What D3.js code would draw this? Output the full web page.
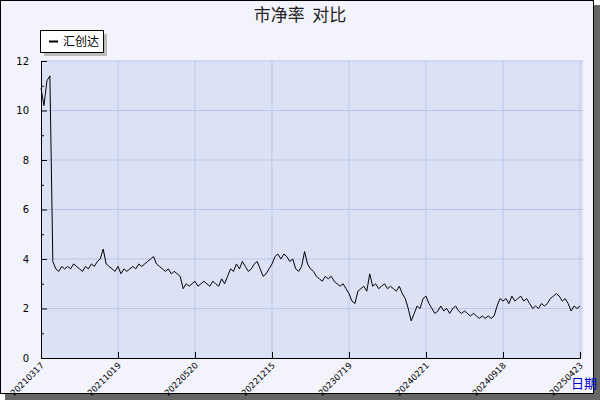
<!DOCTYPE html><html><head><meta charset="utf-8"><script src="https://cdn.jsdelivr.net/npm/d3@7"></script>
<style>body{margin:0;background:#fff}</style></head><body><svg id="c" width="600" height="400"></svg>
<script>
const title="市净率\u00a0\u00a0对比";
const seriesName="汇创达";
const tickLabels=["20210317","20211019","20220520","20221215","20230719","20240221","20240918","20250423"];
const yTicks=[0,2,4,6,8,10,12];
const values=[10.9,10.2,11.2,11.4,3.9,3.6,3.5,3.7,3.6,3.7,3.6,3.8,3.7,3.6,3.5,3.7,3.6,3.8,3.7,3.9,
4.0,4.4,3.8,3.7,3.6,3.5,3.7,3.4,3.6,3.5,3.6,3.7,3.6,3.8,3.7,3.8,3.9,4.0,4.1,3.8,3.7,3.6,3.5,3.6,3.4,3.5,3.4,3.3,2.8,3.0,
2.9,3.0,3.1,2.9,3.0,3.1,3.0,2.9,3.1,3.0,2.9,3.2,3.0,3.3,3.6,3.5,3.8,3.6,3.9,3.7,3.5,3.6,3.8,3.9,3.6,3.3,3.4,3.6,3.8,4.1,
4.2,4.0,4.2,4.1,3.9,4.0,3.6,3.5,3.7,4.3,3.8,3.6,3.5,3.3,3.2,3.1,3.3,3.2,3.3,3.1,3.0,2.9,3.0,2.8,2.6,2.3,2.2,2.7,2.8,2.9,
2.7,3.4,2.9,3.0,2.8,2.9,3.0,2.8,2.9,2.8,2.7,2.9,2.6,2.4,2.0,1.5,1.8,2.1,2.0,2.4,2.5,2.2,2.0,1.8,1.9,2.1,1.9,2.0,1.8,2.0,
2.1,1.9,1.8,1.9,1.8,1.7,1.8,1.7,1.6,1.7,1.6,1.7,1.6,1.7,2.1,2.4,2.3,2.4,2.2,2.5,2.3,2.4,2.5,2.3,2.4,2.2,2.0,2.1,2.0,2.2,
2.1,2.2,2.4,2.5,2.6,2.5,2.3,2.4,2.2,1.9,2.1,2.0,2.1];
const step=26;
const svg=d3.select("#c");
svg.append("rect").attr("x",5).attr("y",5).attr("width",595).attr("height",395).attr("fill","#666");
svg.append("rect").attr("x",0.5).attr("y",0.5).attr("width",593).attr("height",393).attr("fill","#f3f4fb").attr("stroke","#000");
const L=41,R=580,T=61,B=358;
const x=d3.scaleLinear().domain([0,values.length-1]).range([L,R]);
const y=d3.scaleLinear().domain([0,12]).range([B,T]);
svg.append("rect").attr("x",L).attr("y",T).attr("width",R-L+3).attr("height",B-T).attr("fill","#dce2f6");
const xt=d3.range(0,values.length,step);
svg.append("g").selectAll("line").data(xt.slice(1)).join("line").attr("x1",d=>x(d)).attr("x2",d=>x(d)).attr("y1",T).attr("y2",B).attr("stroke","#b9c6ea");
svg.append("g").selectAll("line").data(yTicks.slice(1)).join("line").attr("x1",L).attr("x2",R+3).attr("y1",d=>y(d)).attr("y2",d=>y(d)).attr("stroke","#b9c6ea");
const ya=svg.append("g").attr("transform",`translate(${L},0)`).call(d3.axisLeft(y).tickValues(yTicks).tickSize(-6).tickPadding(12).tickFormat(d3.format("d")));
ya.append("g").call(d3.axisLeft(y).tickValues(d3.range(1,12,2)).tickSize(-3).tickFormat(""));
ya.selectAll("text").attr("font-family","DejaVu Sans").attr("font-size",10).attr("fill","#000");
ya.selectAll(".domain").attr("stroke","#000");
const xa=svg.append("g").attr("transform",`translate(0,${B})`).call(d3.axisBottom(x).tickValues(xt).tickSize(-6).tickFormat((d,i)=>tickLabels[i]));
xa.selectAll("text").attr("font-family","DejaVu Sans").attr("font-size",8.5).attr("fill","#000").attr("text-anchor","end").attr("dy",0).attr("y",0).attr("transform","translate(3,8) rotate(-45)");
xa.select(".domain").attr("stroke","#000");
svg.append("path").datum(values).attr("fill","none").attr("stroke","#000").attr("stroke-width",1)
 .attr("d",d3.line().x((d,i)=>x(i)).y(d=>y(d)));
svg.append("text").attr("x",300).attr("y",21).attr("text-anchor","middle").attr("font-family","Noto Sans CJK SC").attr("font-size",17).attr("fill","#222").text(title);
svg.append("text").attr("x",597).attr("y",388).attr("text-anchor","end").attr("font-family","Noto Sans CJK SC").attr("font-size",13).attr("fill","#0000cc").text("日期");
svg.append("rect").attr("x",44).attr("y",34).attr("width",63).attr("height",22).attr("fill","#bbb");
svg.append("rect").attr("x",40.5).attr("y",30.5).attr("width",63).attr("height",22).attr("fill","#fff").attr("stroke","#000");
svg.append("line").attr("x1",49).attr("x2",58).attr("y1",41.5).attr("y2",41.5).attr("stroke","#000").attr("stroke-width",2);
svg.append("text").attr("x",63).attr("y",46).attr("font-family","Noto Sans CJK SC").attr("font-size",12).text(seriesName);
</script></body></html>
